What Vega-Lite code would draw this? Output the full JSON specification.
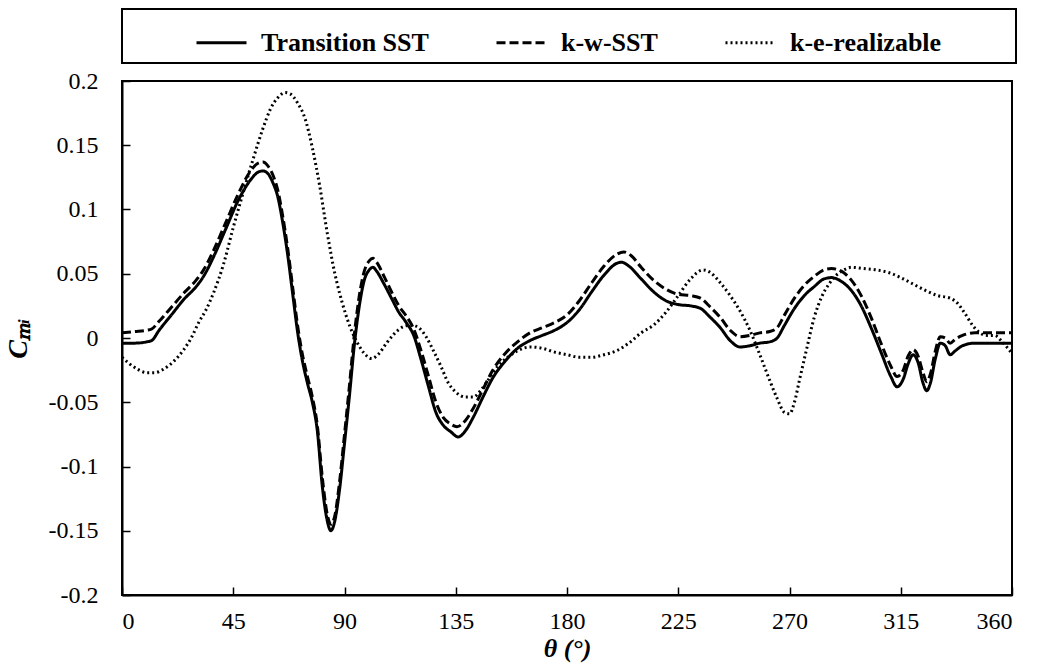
{
  "$schema": "https://vega.github.io/schema/vega-lite/v6.json",
  "width": 890,
  "height": 514,
  "autosize": {"type": "none"},
  "padding": {"left": 122, "top": 81, "right": 30, "bottom": 72},
  "background": "white",
  "config": {
    "font": "serif",
    "view": {"stroke": "black", "strokeWidth": 2},
    "axis": {"grid": false, "domainColor": "black", "domainWidth": 2, "tickColor": "black", "tickWidth": 1.5, "labelColor": "black", "titleColor": "black", "labelFont": "serif", "titleFont": "serif", "labelFontSize": 24, "titleFontSize": 26},
    "legend": {"strokeWidth": 2}
  },
  "data": {"values": [
    {"model":"Transition SST","theta":0,"cm":-0.004},{"model":"Transition SST","theta":5,"cm":-0.004},{"model":"Transition SST","theta":10,"cm":-0.003},{"model":"Transition SST","theta":12,"cm":-0.002},{"model":"Transition SST","theta":15,"cm":0.006},{"model":"Transition SST","theta":20,"cm":0.018},{"model":"Transition SST","theta":25,"cm":0.030},{"model":"Transition SST","theta":30,"cm":0.040},{"model":"Transition SST","theta":33,"cm":0.048},{"model":"Transition SST","theta":37,"cm":0.063},{"model":"Transition SST","theta":42,"cm":0.085},{"model":"Transition SST","theta":47,"cm":0.107},{"model":"Transition SST","theta":52,"cm":0.123},{"model":"Transition SST","theta":55,"cm":0.129},{"model":"Transition SST","theta":57,"cm":0.130},{"model":"Transition SST","theta":59,"cm":0.128},{"model":"Transition SST","theta":61,"cm":0.121},{"model":"Transition SST","theta":63,"cm":0.110},{"model":"Transition SST","theta":65,"cm":0.090},{"model":"Transition SST","theta":67,"cm":0.065},{"model":"Transition SST","theta":69,"cm":0.035},{"model":"Transition SST","theta":71,"cm":0.005},{"model":"Transition SST","theta":73,"cm":-0.018},{"model":"Transition SST","theta":75,"cm":-0.035},{"model":"Transition SST","theta":77,"cm":-0.050},{"model":"Transition SST","theta":79,"cm":-0.072},{"model":"Transition SST","theta":81,"cm":-0.115},{"model":"Transition SST","theta":83,"cm":-0.142},{"model":"Transition SST","theta":84.5,"cm":-0.150},{"model":"Transition SST","theta":86,"cm":-0.143},{"model":"Transition SST","theta":88,"cm":-0.118},{"model":"Transition SST","theta":90,"cm":-0.082},{"model":"Transition SST","theta":92,"cm":-0.045},{"model":"Transition SST","theta":94,"cm":-0.005},{"model":"Transition SST","theta":96,"cm":0.025},{"model":"Transition SST","theta":98,"cm":0.045},{"model":"Transition SST","theta":100,"cm":0.053},{"model":"Transition SST","theta":101.5,"cm":0.055},{"model":"Transition SST","theta":103,"cm":0.052},{"model":"Transition SST","theta":106,"cm":0.042},{"model":"Transition SST","theta":109,"cm":0.031},{"model":"Transition SST","theta":112,"cm":0.020},{"model":"Transition SST","theta":115,"cm":0.012},{"model":"Transition SST","theta":118,"cm":0.002},{"model":"Transition SST","theta":121,"cm":-0.017},{"model":"Transition SST","theta":124,"cm":-0.038},{"model":"Transition SST","theta":127,"cm":-0.058},{"model":"Transition SST","theta":130,"cm":-0.068},{"model":"Transition SST","theta":133,"cm":-0.073},{"model":"Transition SST","theta":136,"cm":-0.077},{"model":"Transition SST","theta":139,"cm":-0.072},{"model":"Transition SST","theta":142,"cm":-0.062},{"model":"Transition SST","theta":146,"cm":-0.046},{"model":"Transition SST","theta":150,"cm":-0.031},{"model":"Transition SST","theta":155,"cm":-0.018},{"model":"Transition SST","theta":160,"cm":-0.008},{"model":"Transition SST","theta":165,"cm":-0.002},{"model":"Transition SST","theta":170,"cm":0.002},{"model":"Transition SST","theta":175,"cm":0.006},{"model":"Transition SST","theta":180,"cm":0.012},{"model":"Transition SST","theta":185,"cm":0.022},{"model":"Transition SST","theta":190,"cm":0.036},{"model":"Transition SST","theta":195,"cm":0.049},{"model":"Transition SST","theta":200,"cm":0.058},{"model":"Transition SST","theta":202,"cm":0.059},{"model":"Transition SST","theta":205,"cm":0.056},{"model":"Transition SST","theta":210,"cm":0.046},{"model":"Transition SST","theta":215,"cm":0.036},{"model":"Transition SST","theta":220,"cm":0.029},{"model":"Transition SST","theta":225,"cm":0.026},{"model":"Transition SST","theta":230,"cm":0.025},{"model":"Transition SST","theta":234,"cm":0.023},{"model":"Transition SST","theta":238,"cm":0.016},{"model":"Transition SST","theta":242,"cm":0.008},{"model":"Transition SST","theta":246,"cm":-0.002},{"model":"Transition SST","theta":250,"cm":-0.007},{"model":"Transition SST","theta":254,"cm":-0.006},{"model":"Transition SST","theta":258,"cm":-0.004},{"model":"Transition SST","theta":262,"cm":-0.003},{"model":"Transition SST","theta":265,"cm":0.000},{"model":"Transition SST","theta":268,"cm":0.010},{"model":"Transition SST","theta":272,"cm":0.023},{"model":"Transition SST","theta":276,"cm":0.033},{"model":"Transition SST","theta":280,"cm":0.040},{"model":"Transition SST","theta":284,"cm":0.046},{"model":"Transition SST","theta":287,"cm":0.047},{"model":"Transition SST","theta":291,"cm":0.044},{"model":"Transition SST","theta":295,"cm":0.037},{"model":"Transition SST","theta":299,"cm":0.025},{"model":"Transition SST","theta":303,"cm":0.008},{"model":"Transition SST","theta":307,"cm":-0.011},{"model":"Transition SST","theta":311,"cm":-0.030},{"model":"Transition SST","theta":313.5,"cm":-0.038},{"model":"Transition SST","theta":316,"cm":-0.032},{"model":"Transition SST","theta":318,"cm":-0.020},{"model":"Transition SST","theta":320,"cm":-0.013},{"model":"Transition SST","theta":322,"cm":-0.019},{"model":"Transition SST","theta":324,"cm":-0.035},{"model":"Transition SST","theta":325.5,"cm":-0.041},{"model":"Transition SST","theta":327,"cm":-0.035},{"model":"Transition SST","theta":329,"cm":-0.016},{"model":"Transition SST","theta":331,"cm":-0.004},{"model":"Transition SST","theta":333,"cm":-0.006},{"model":"Transition SST","theta":335,"cm":-0.013},{"model":"Transition SST","theta":337,"cm":-0.010},{"model":"Transition SST","theta":340,"cm":-0.006},{"model":"Transition SST","theta":345,"cm":-0.004},{"model":"Transition SST","theta":350,"cm":-0.004},{"model":"Transition SST","theta":355,"cm":-0.004},{"model":"Transition SST","theta":360,"cm":-0.004},
    {"model":"k-w-SST","theta":0,"cm":0.004},{"model":"k-w-SST","theta":5,"cm":0.005},{"model":"k-w-SST","theta":10,"cm":0.006},{"model":"k-w-SST","theta":12,"cm":0.007},{"model":"k-w-SST","theta":15,"cm":0.013},{"model":"k-w-SST","theta":20,"cm":0.024},{"model":"k-w-SST","theta":25,"cm":0.035},{"model":"k-w-SST","theta":30,"cm":0.045},{"model":"k-w-SST","theta":33,"cm":0.053},{"model":"k-w-SST","theta":37,"cm":0.068},{"model":"k-w-SST","theta":42,"cm":0.090},{"model":"k-w-SST","theta":47,"cm":0.112},{"model":"k-w-SST","theta":52,"cm":0.130},{"model":"k-w-SST","theta":55,"cm":0.136},{"model":"k-w-SST","theta":57,"cm":0.137},{"model":"k-w-SST","theta":59,"cm":0.134},{"model":"k-w-SST","theta":61,"cm":0.127},{"model":"k-w-SST","theta":63,"cm":0.115},{"model":"k-w-SST","theta":65,"cm":0.095},{"model":"k-w-SST","theta":67,"cm":0.070},{"model":"k-w-SST","theta":69,"cm":0.040},{"model":"k-w-SST","theta":71,"cm":0.010},{"model":"k-w-SST","theta":73,"cm":-0.013},{"model":"k-w-SST","theta":75,"cm":-0.030},{"model":"k-w-SST","theta":77,"cm":-0.046},{"model":"k-w-SST","theta":79,"cm":-0.068},{"model":"k-w-SST","theta":81,"cm":-0.108},{"model":"k-w-SST","theta":83,"cm":-0.137},{"model":"k-w-SST","theta":84.5,"cm":-0.145},{"model":"k-w-SST","theta":86,"cm":-0.139},{"model":"k-w-SST","theta":88,"cm":-0.112},{"model":"k-w-SST","theta":90,"cm":-0.075},{"model":"k-w-SST","theta":92,"cm":-0.037},{"model":"k-w-SST","theta":94,"cm":0.003},{"model":"k-w-SST","theta":96,"cm":0.033},{"model":"k-w-SST","theta":98,"cm":0.052},{"model":"k-w-SST","theta":100,"cm":0.060},{"model":"k-w-SST","theta":101.5,"cm":0.062},{"model":"k-w-SST","theta":103,"cm":0.059},{"model":"k-w-SST","theta":106,"cm":0.048},{"model":"k-w-SST","theta":109,"cm":0.036},{"model":"k-w-SST","theta":112,"cm":0.025},{"model":"k-w-SST","theta":115,"cm":0.017},{"model":"k-w-SST","theta":118,"cm":0.007},{"model":"k-w-SST","theta":121,"cm":-0.010},{"model":"k-w-SST","theta":124,"cm":-0.030},{"model":"k-w-SST","theta":127,"cm":-0.050},{"model":"k-w-SST","theta":130,"cm":-0.062},{"model":"k-w-SST","theta":133,"cm":-0.067},{"model":"k-w-SST","theta":135.5,"cm":-0.069},{"model":"k-w-SST","theta":139,"cm":-0.064},{"model":"k-w-SST","theta":142,"cm":-0.055},{"model":"k-w-SST","theta":146,"cm":-0.040},{"model":"k-w-SST","theta":150,"cm":-0.025},{"model":"k-w-SST","theta":155,"cm":-0.012},{"model":"k-w-SST","theta":160,"cm":-0.003},{"model":"k-w-SST","theta":165,"cm":0.004},{"model":"k-w-SST","theta":170,"cm":0.008},{"model":"k-w-SST","theta":175,"cm":0.012},{"model":"k-w-SST","theta":180,"cm":0.018},{"model":"k-w-SST","theta":185,"cm":0.029},{"model":"k-w-SST","theta":190,"cm":0.043},{"model":"k-w-SST","theta":195,"cm":0.056},{"model":"k-w-SST","theta":200,"cm":0.065},{"model":"k-w-SST","theta":203,"cm":0.067},{"model":"k-w-SST","theta":206,"cm":0.064},{"model":"k-w-SST","theta":210,"cm":0.055},{"model":"k-w-SST","theta":215,"cm":0.045},{"model":"k-w-SST","theta":220,"cm":0.038},{"model":"k-w-SST","theta":225,"cm":0.034},{"model":"k-w-SST","theta":230,"cm":0.033},{"model":"k-w-SST","theta":234,"cm":0.031},{"model":"k-w-SST","theta":238,"cm":0.024},{"model":"k-w-SST","theta":242,"cm":0.016},{"model":"k-w-SST","theta":246,"cm":0.006},{"model":"k-w-SST","theta":250,"cm":0.001},{"model":"k-w-SST","theta":254,"cm":0.002},{"model":"k-w-SST","theta":258,"cm":0.004},{"model":"k-w-SST","theta":262,"cm":0.005},{"model":"k-w-SST","theta":265,"cm":0.008},{"model":"k-w-SST","theta":268,"cm":0.018},{"model":"k-w-SST","theta":272,"cm":0.031},{"model":"k-w-SST","theta":276,"cm":0.041},{"model":"k-w-SST","theta":280,"cm":0.048},{"model":"k-w-SST","theta":284,"cm":0.053},{"model":"k-w-SST","theta":287,"cm":0.054},{"model":"k-w-SST","theta":291,"cm":0.052},{"model":"k-w-SST","theta":295,"cm":0.045},{"model":"k-w-SST","theta":299,"cm":0.033},{"model":"k-w-SST","theta":303,"cm":0.016},{"model":"k-w-SST","theta":307,"cm":-0.004},{"model":"k-w-SST","theta":311,"cm":-0.022},{"model":"k-w-SST","theta":313.5,"cm":-0.030},{"model":"k-w-SST","theta":316,"cm":-0.025},{"model":"k-w-SST","theta":318,"cm":-0.014},{"model":"k-w-SST","theta":320,"cm":-0.009},{"model":"k-w-SST","theta":322,"cm":-0.014},{"model":"k-w-SST","theta":324,"cm":-0.027},{"model":"k-w-SST","theta":325.5,"cm":-0.034},{"model":"k-w-SST","theta":327,"cm":-0.028},{"model":"k-w-SST","theta":329,"cm":-0.010},{"model":"k-w-SST","theta":331,"cm":0.001},{"model":"k-w-SST","theta":333,"cm":0.000},{"model":"k-w-SST","theta":335,"cm":-0.004},{"model":"k-w-SST","theta":337,"cm":-0.001},{"model":"k-w-SST","theta":340,"cm":0.002},{"model":"k-w-SST","theta":345,"cm":0.004},{"model":"k-w-SST","theta":350,"cm":0.004},{"model":"k-w-SST","theta":355,"cm":0.004},{"model":"k-w-SST","theta":360,"cm":0.004},
    {"model":"k-e-realizable","theta":0,"cm":-0.015},{"model":"k-e-realizable","theta":3,"cm":-0.020},{"model":"k-e-realizable","theta":6,"cm":-0.024},{"model":"k-e-realizable","theta":10,"cm":-0.027},{"model":"k-e-realizable","theta":13,"cm":-0.027},{"model":"k-e-realizable","theta":17,"cm":-0.024},{"model":"k-e-realizable","theta":21,"cm":-0.018},{"model":"k-e-realizable","theta":25,"cm":-0.009},{"model":"k-e-realizable","theta":28,"cm":0.000},{"model":"k-e-realizable","theta":31,"cm":0.012},{"model":"k-e-realizable","theta":34,"cm":0.022},{"model":"k-e-realizable","theta":37,"cm":0.035},{"model":"k-e-realizable","theta":41,"cm":0.057},{"model":"k-e-realizable","theta":45,"cm":0.086},{"model":"k-e-realizable","theta":49,"cm":0.113},{"model":"k-e-realizable","theta":53,"cm":0.139},{"model":"k-e-realizable","theta":57,"cm":0.163},{"model":"k-e-realizable","theta":60,"cm":0.178},{"model":"k-e-realizable","theta":63,"cm":0.187},{"model":"k-e-realizable","theta":66,"cm":0.191},{"model":"k-e-realizable","theta":68,"cm":0.190},{"model":"k-e-realizable","theta":71,"cm":0.183},{"model":"k-e-realizable","theta":74,"cm":0.171},{"model":"k-e-realizable","theta":77,"cm":0.148},{"model":"k-e-realizable","theta":80,"cm":0.118},{"model":"k-e-realizable","theta":83,"cm":0.082},{"model":"k-e-realizable","theta":86,"cm":0.051},{"model":"k-e-realizable","theta":89,"cm":0.028},{"model":"k-e-realizable","theta":92,"cm":0.010},{"model":"k-e-realizable","theta":95,"cm":-0.003},{"model":"k-e-realizable","theta":98,"cm":-0.012},{"model":"k-e-realizable","theta":101,"cm":-0.016},{"model":"k-e-realizable","theta":104,"cm":-0.012},{"model":"k-e-realizable","theta":107,"cm":-0.004},{"model":"k-e-realizable","theta":110,"cm":0.003},{"model":"k-e-realizable","theta":114,"cm":0.009},{"model":"k-e-realizable","theta":117,"cm":0.010},{"model":"k-e-realizable","theta":120,"cm":0.008},{"model":"k-e-realizable","theta":123,"cm":0.001},{"model":"k-e-realizable","theta":126,"cm":-0.010},{"model":"k-e-realizable","theta":129,"cm":-0.022},{"model":"k-e-realizable","theta":132,"cm":-0.035},{"model":"k-e-realizable","theta":135,"cm":-0.042},{"model":"k-e-realizable","theta":139,"cm":-0.046},{"model":"k-e-realizable","theta":142,"cm":-0.046},{"model":"k-e-realizable","theta":145,"cm":-0.041},{"model":"k-e-realizable","theta":148,"cm":-0.033},{"model":"k-e-realizable","theta":152,"cm":-0.022},{"model":"k-e-realizable","theta":156,"cm":-0.015},{"model":"k-e-realizable","theta":160,"cm":-0.010},{"model":"k-e-realizable","theta":165,"cm":-0.007},{"model":"k-e-realizable","theta":170,"cm":-0.008},{"model":"k-e-realizable","theta":175,"cm":-0.011},{"model":"k-e-realizable","theta":180,"cm":-0.013},{"model":"k-e-realizable","theta":185,"cm":-0.015},{"model":"k-e-realizable","theta":190,"cm":-0.015},{"model":"k-e-realizable","theta":195,"cm":-0.013},{"model":"k-e-realizable","theta":200,"cm":-0.010},{"model":"k-e-realizable","theta":205,"cm":-0.004},{"model":"k-e-realizable","theta":210,"cm":0.004},{"model":"k-e-realizable","theta":215,"cm":0.010},{"model":"k-e-realizable","theta":220,"cm":0.020},{"model":"k-e-realizable","theta":225,"cm":0.033},{"model":"k-e-realizable","theta":230,"cm":0.046},{"model":"k-e-realizable","theta":235,"cm":0.053},{"model":"k-e-realizable","theta":238,"cm":0.051},{"model":"k-e-realizable","theta":242,"cm":0.043},{"model":"k-e-realizable","theta":246,"cm":0.033},{"model":"k-e-realizable","theta":250,"cm":0.021},{"model":"k-e-realizable","theta":254,"cm":0.006},{"model":"k-e-realizable","theta":258,"cm":-0.013},{"model":"k-e-realizable","theta":262,"cm":-0.033},{"model":"k-e-realizable","theta":265,"cm":-0.047},{"model":"k-e-realizable","theta":268,"cm":-0.058},{"model":"k-e-realizable","theta":270,"cm":-0.059},{"model":"k-e-realizable","theta":272,"cm":-0.050},{"model":"k-e-realizable","theta":274,"cm":-0.033},{"model":"k-e-realizable","theta":277,"cm":-0.008},{"model":"k-e-realizable","theta":280,"cm":0.016},{"model":"k-e-realizable","theta":283,"cm":0.032},{"model":"k-e-realizable","theta":286,"cm":0.042},{"model":"k-e-realizable","theta":289,"cm":0.049},{"model":"k-e-realizable","theta":292,"cm":0.053},{"model":"k-e-realizable","theta":295,"cm":0.055},{"model":"k-e-realizable","theta":300,"cm":0.054},{"model":"k-e-realizable","theta":305,"cm":0.053},{"model":"k-e-realizable","theta":310,"cm":0.051},{"model":"k-e-realizable","theta":315,"cm":0.047},{"model":"k-e-realizable","theta":320,"cm":0.042},{"model":"k-e-realizable","theta":325,"cm":0.037},{"model":"k-e-realizable","theta":330,"cm":0.033},{"model":"k-e-realizable","theta":335,"cm":0.031},{"model":"k-e-realizable","theta":338,"cm":0.027},{"model":"k-e-realizable","theta":341,"cm":0.019},{"model":"k-e-realizable","theta":344,"cm":0.010},{"model":"k-e-realizable","theta":347,"cm":0.004},{"model":"k-e-realizable","theta":350,"cm":0.002},{"model":"k-e-realizable","theta":353,"cm":0.002},{"model":"k-e-realizable","theta":356,"cm":-0.003},{"model":"k-e-realizable","theta":360,"cm":-0.012}
  ]},
  "mark": {"type": "line", "interpolate": "monotone", "color": "black", "clip": true},
  "encoding": {
    "x": {"field": "theta", "type": "quantitative", "scale": {"domain": [0, 360], "nice": false},
      "axis": {"values": [0,45,90,135,180,225,270,315,360], "tickSize": -8, "labelPadding": 22, "title": "θ (°)", "titleFontStyle": "italic", "titleFontWeight": "bold", "titleFontSize": 26, "titlePadding": 2}},
    "y": {"field": "cm", "type": "quantitative", "scale": {"domain": [-0.2, 0.2], "nice": false, "zero": false},
      "axis": {"values": [-0.2,-0.15,-0.1,-0.05,0,0.05,0.1,0.15,0.2], "labelExpr": "'' + datum.value", "tickSize": -8, "labelPadding": 32, "title": "Cₘᵢ", "titleFontStyle": "italic", "titleFontWeight": "bold", "titleFontSize": 28, "titlePadding": 16}},
    "strokeDash": {"field": "model", "type": "nominal",
      "scale": {"domain": ["Transition SST", "k-w-SST", "k-e-realizable"], "range": [[1, 0], [9, 4], [2, 3]]},
      "legend": {"orient": "top", "direction": "horizontal", "title": " ", "titleOrient": "right", "titleFontSize": 10, "titlePadding": 68,
        "symbolType": "stroke", "symbolSize": 2500, "symbolStrokeWidth": 3, "symbolStrokeColor": "black", "symbolOffset": 66,
        "labelFont": "serif", "labelFontSize": 26, "labelFontWeight": "bold", "labelColor": "black", "labelLimit": 500, "labelOffset": 13,
        "columnPadding": 0, "padding": 7, "strokeColor": "black", "offset": 18}},
    "strokeWidth": {"field": "model", "type": "nominal",
      "scale": {"domain": ["Transition SST", "k-w-SST", "k-e-realizable"], "range": [3, 3, 2]}, "legend": null}
  }
}
